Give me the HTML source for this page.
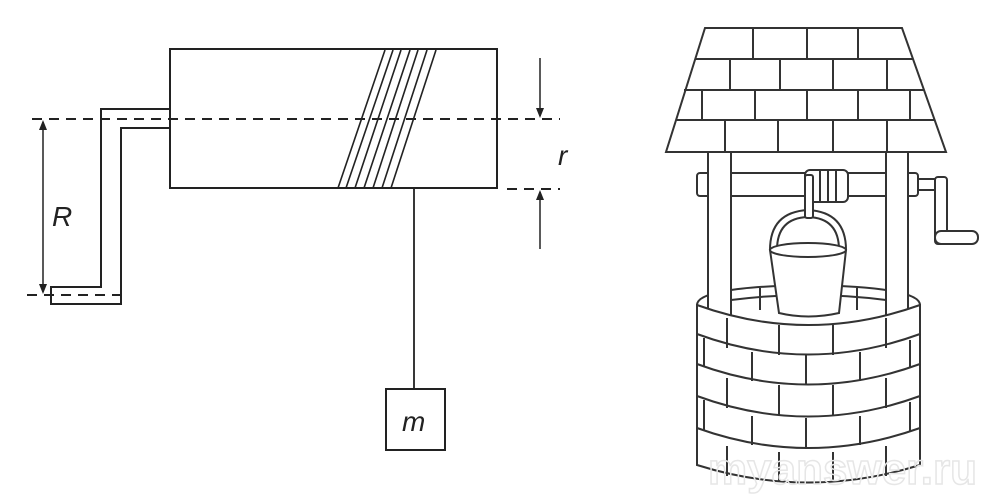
<!DOCTYPE html>
<html><head><meta charset="utf-8"><style>
html,body{margin:0;padding:0;background:#fff;}
svg{display:block;}
</style></head><body>
<svg width="1000" height="499" viewBox="0 0 1000 499" xmlns="http://www.w3.org/2000/svg">
<rect width="1000" height="499" fill="#fff"/>
<g stroke="#222" stroke-width="2" fill="none">
  <rect x="170" y="49" width="327" height="139" fill="#fff"/>
  <g stroke-width="1.6">
    <line x1="385" y1="50" x2="338" y2="188"/>
    <line x1="393" y1="50" x2="346" y2="188"/>
    <line x1="401" y1="50" x2="355" y2="188"/>
    <line x1="410" y1="50" x2="364" y2="188"/>
    <line x1="418" y1="50" x2="373" y2="188"/>
    <line x1="427" y1="50" x2="382" y2="188"/>
    <line x1="436" y1="50" x2="391" y2="188"/>
  </g>
  <path d="M170,109 H101 V287 H51 V304 H121 V128 H170"/>
  <g stroke-dasharray="10,7">
    <line x1="32" y1="119" x2="560" y2="119"/>
    <line x1="507" y1="189" x2="560" y2="189"/>
    <line x1="27" y1="295" x2="120" y2="295"/>
  </g>
  <line x1="43" y1="122" x2="43" y2="292" stroke-width="1.5"/>
  <line x1="540" y1="58" x2="540" y2="116" stroke-width="1.5"/>
  <line x1="540" y1="192" x2="540" y2="249" stroke-width="1.5"/>
  <line x1="414" y1="188" x2="414" y2="389" stroke-width="1.8"/>
  <rect x="386" y="389" width="59" height="61" fill="#fff"/>
</g>
<g fill="#222">
  <polygon points="43,120 39,130 47,130"/>
  <polygon points="43,294 39,284 47,284"/>
  <polygon points="540,118 536,108 544,108"/>
  <polygon points="540,190 536,200 544,200"/>
</g>
<g font-family="Liberation Sans, sans-serif" font-style="italic" fill="#222">
  <text x="52" y="226" font-size="28">R</text>
  <text x="558" y="165" font-size="28">r</text>
  <text x="402" y="431" font-size="28">m</text>
</g>

<!-- WELL -->
<g stroke="#333" stroke-width="2" fill="#fff">
  <!-- back rim of wall -->
  <path d="M697,305 Q697,287 808,285 Q920,287 920,305" fill="none"/>
  <path d="M731,300 Q808,290 886,300" fill="none"/>
  <g fill="none">
    <line x1="760" y1="288" x2="760" y2="310"/>
    <line x1="857" y1="288" x2="857" y2="310"/>
  </g>
  <!-- posts -->
  <rect x="708" y="152" width="23" height="170"/>
  <rect x="886" y="152" width="22" height="170"/>
  <!-- axle -->
  <rect x="697" y="173" width="221" height="23" rx="3"/>
  <rect x="708" y="172" width="23" height="25" stroke="none"/>
  <line x1="708" y1="172" x2="708" y2="197"/>
  <line x1="731" y1="172" x2="731" y2="197"/>
  <rect x="886" y="172" width="22" height="25" stroke="none"/>
  <line x1="886" y1="172" x2="886" y2="197"/>
  <line x1="908" y1="172" x2="908" y2="197"/>
  <!-- crank -->
  <rect x="918" y="179" width="20" height="11"/>
  <rect x="935" y="177" width="12" height="67" rx="3"/>
  <rect x="935" y="231" width="43" height="13" rx="6"/>
  <line x1="947" y1="232" x2="947" y2="243" stroke="#fff" stroke-width="3"/>
  <!-- coil -->
  <rect x="805" y="170" width="43" height="32" rx="5"/>
  <g fill="none"><line x1="820" y1="171" x2="820" y2="201"/><line x1="828" y1="171" x2="828" y2="201"/><line x1="836" y1="171" x2="836" y2="201"/></g>
  <!-- bucket handle -->
  <path d="M770,250 Q770,212 808,210 Q846,212 846,250" fill="none"/>
  <path d="M777,250 Q777,218 808,217 Q839,218 839,250" fill="none"/>
  <rect x="805" y="175" width="8" height="43" rx="2"/>
  <!-- bucket body -->
  <path d="M770,250 L779,313 Q808,320 839,313 L846,250 Z"/>
  <ellipse cx="808" cy="250" rx="38" ry="7"/>
  <!-- front wall -->
  <path d="M697,305 Q808,345 920,305 L920,465 Q808,500 697,465 Z"/>
  <g fill="none">
    <path d="M697,334 Q808,375 920,334"/>
    <path d="M697,364 Q808,405 920,364"/>
    <path d="M697,396 Q808,437 920,396"/>
    <path d="M697,428 Q808,468 920,428"/>
    <line x1="727" y1="318" x2="727" y2="348"/>
    <line x1="779" y1="325" x2="779" y2="355"/>
    <line x1="833" y1="325" x2="833" y2="355"/>
    <line x1="886" y1="318" x2="886" y2="348"/>
    <line x1="704" y1="338" x2="704" y2="366"/>
    <line x1="752" y1="352" x2="752" y2="381"/>
    <line x1="806" y1="355" x2="806" y2="385"/>
    <line x1="860" y1="352" x2="860" y2="381"/>
    <line x1="910" y1="340" x2="910" y2="368"/>
    <line x1="727" y1="378" x2="727" y2="408"/>
    <line x1="779" y1="385" x2="779" y2="415"/>
    <line x1="833" y1="385" x2="833" y2="415"/>
    <line x1="886" y1="378" x2="886" y2="408"/>
    <line x1="704" y1="400" x2="704" y2="430"/>
    <line x1="752" y1="416" x2="752" y2="445"/>
    <line x1="806" y1="418" x2="806" y2="449"/>
    <line x1="860" y1="416" x2="860" y2="445"/>
    <line x1="910" y1="402" x2="910" y2="432"/>
    <line x1="727" y1="446" x2="727" y2="476"/>
    <line x1="779" y1="452" x2="779" y2="482"/>
    <line x1="833" y1="452" x2="833" y2="482"/>
    <line x1="886" y1="446" x2="886" y2="476"/>
  </g>
  <!-- roof -->
  <path d="M705,28 L902,28 L946,152 L666,152 Z"/>
  <g fill="none">
    <line x1="695" y1="59" x2="913" y2="59"/>
    <line x1="684" y1="90" x2="924" y2="90"/>
    <line x1="676" y1="120" x2="935" y2="120"/>
    <line x1="753" y1="28" x2="753" y2="59"/><line x1="807" y1="28" x2="807" y2="59"/><line x1="858" y1="28" x2="858" y2="59"/>
    <line x1="730" y1="59" x2="730" y2="90"/><line x1="780" y1="59" x2="780" y2="90"/><line x1="833" y1="59" x2="833" y2="90"/><line x1="887" y1="59" x2="887" y2="90"/>
    <line x1="702" y1="90" x2="702" y2="120"/><line x1="755" y1="90" x2="755" y2="120"/><line x1="807" y1="90" x2="807" y2="120"/><line x1="858" y1="90" x2="858" y2="120"/><line x1="910" y1="90" x2="910" y2="120"/>
    <line x1="725" y1="120" x2="725" y2="152"/><line x1="778" y1="120" x2="778" y2="152"/><line x1="833" y1="120" x2="833" y2="152"/><line x1="887" y1="120" x2="887" y2="152"/>
  </g>
</g>
<text x="708" y="484" font-family="Liberation Sans, sans-serif" font-weight="bold" font-size="44" fill="none" stroke="#e6e6e6" stroke-width="1.5">myanswer.ru</text>
</svg>
</body></html>
